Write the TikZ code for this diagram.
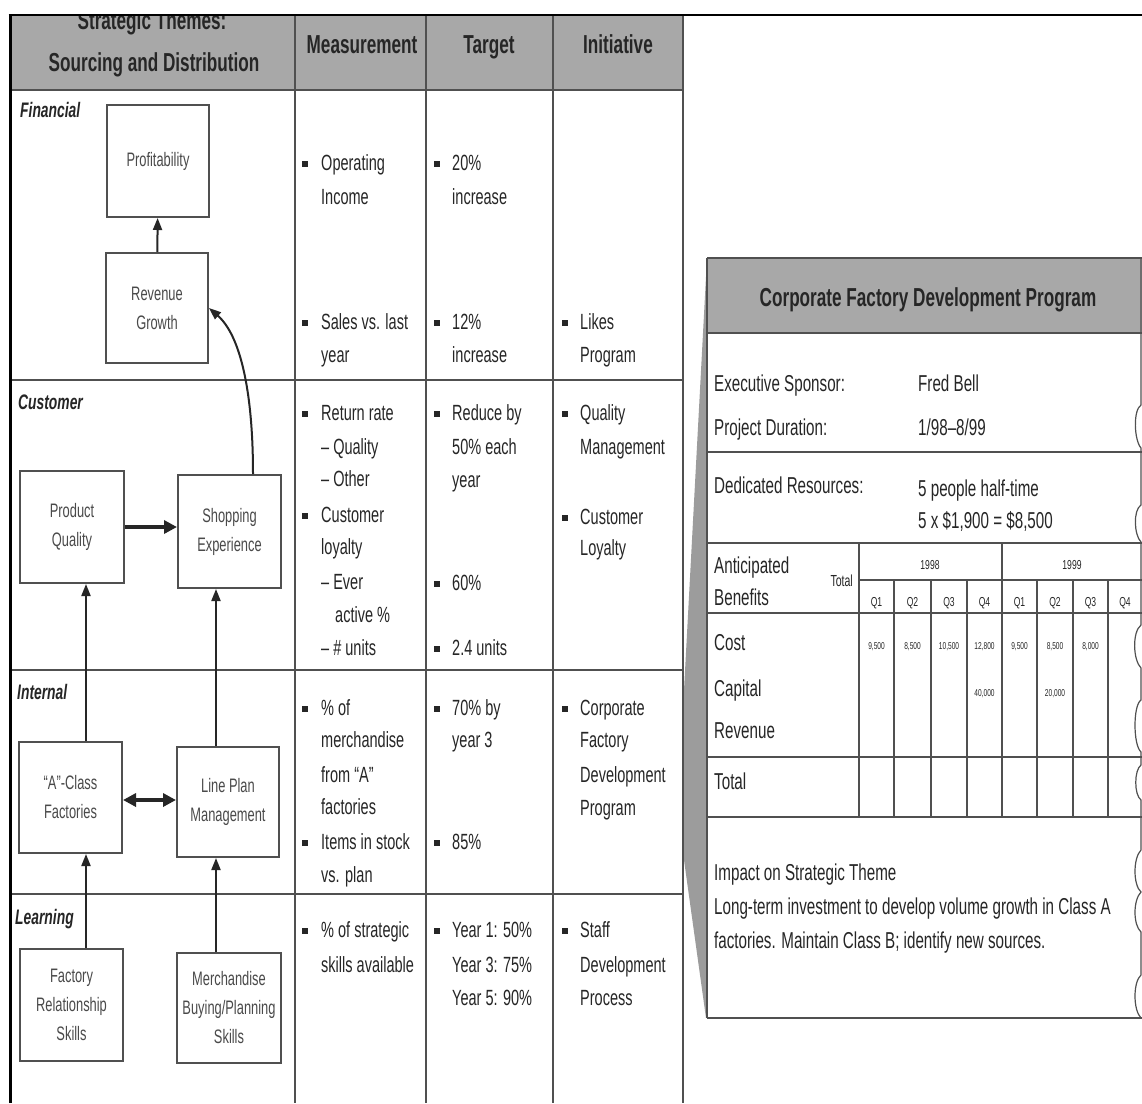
\documentclass[tikz,border=0pt]{standalone}
\usepackage{fontspec}
\setmainfont{Liberation Sans}[FakeStretch=0.66]
\usetikzlibrary{arrows.meta}

\definecolor{ink}{HTML}{262626}
\definecolor{softink}{HTML}{4A4A4A}
\definecolor{rulegray}{HTML}{505050}
\definecolor{bandgray}{HTML}{A8A8A8}
\definecolor{wedgegray}{HTML}{9C9C9C}

\tikzset{
  rule/.style={draw=rulegray, line width=1.6pt},
  heavyrule/.style={draw=rulegray, line width=2.6pt},
  frame/.style={draw=black, line width=3pt},
  box/.style={draw=rulegray, line width=2pt, fill=white, align=center, text=softink,
    font=\fontsize{19.5}{29}\selectfont, inner sep=2pt},
  txt/.style={anchor=base west, inner sep=0pt, text=ink, font=\fontsize{22}{26}\selectfont},
  rtxt/.style={anchor=base west, inner sep=0pt, text=ink, font=\fontsize{23}{27}\selectfont},
  head/.style={anchor=base, inner sep=0pt, text=ink, font=\bfseries\fontsize{26}{30}\selectfont},
  rowlab/.style={anchor=base west, inner sep=0pt, text=ink, font=\bfseries\itshape\fontsize{21}{25}\selectfont},
  bul/.style={fill=ink, inner sep=0pt, minimum size=6pt},
  link/.style={draw=ink, line width=2pt, -{Triangle[length=12pt,width=9pt]}},
  biglink/.style={draw=ink, line width=4.5pt, -{Triangle[length=13pt,width=13pt]}},
  bothlink/.style={draw=ink, line width=4.5pt, {Triangle[length=13pt,width=13pt]}-{Triangle[length=13pt,width=13pt]}},
  tiny/.style={anchor=base, inner sep=0pt, text=ink, font=\fontsize{10}{12}\selectfont},
  qlab/.style={anchor=base, inner sep=0pt, text=ink, font=\fontsize{13}{15}\selectfont},
  tear/.style={draw=rulegray, line width=1.2pt},
}

\begin{document}
\begin{tikzpicture}[x=1pt,y=-1pt]
\useasboundingbox (0,0) rectangle (1142,1103);
\fill[white] (0,0) rectangle (1142,1103);

% ---------------- scorecard table ----------------
\fill[bandgray] (10,15) rectangle (683,90);

\node[head] (hd1) at (152,29) {Strategic Themes:};
\node[head] (hd2) at (154,71) {Sourcing and Distribution};
\node[head] (hd3) at (362,53) {Measurement};
\node[head] (hd4) at (489,53) {Target};
\node[head] (hd5) at (618,53) {Initiative};

% cover the clipped top of the header text
\fill[white] (0,0) rectangle (1142,14);

\draw[heavyrule] (10,90) -- (683,90);
\draw[rule] (10,380) -- (683,380);
\draw[rule] (10,670) -- (683,670);
\draw[rule] (10,894) -- (683,894);
\draw[rule] (295,15) -- (295,1103);
\draw[rule] (426,15) -- (426,1103);
\draw[rule] (553,15) -- (553,1103);
\draw[rule] (683,15) -- (683,1103);

\draw[frame] (10,1103) -- (10,15);
\draw[draw=black, line width=2.5pt] (8.5,15) -- (1142,15);

% perspective rows
\node[rowlab] (lfin) at (20,117) {Financial};
\node[rowlab] (lcus) at (18,409) {Customer};
\node[rowlab] (lint) at (17,699) {Internal};
\node[rowlab] (llea) at (15,924) {Learning};

% strategy map boxes
\node[box, minimum width=102pt, minimum height=112pt] (prof) at (158,161) {Profitability};
\node[box, minimum width=102pt, minimum height=110pt] (rev) at (157,308) {Revenue\\Growth};
\node[box, minimum width=104pt, minimum height=112pt] (pq) at (72,527) {Product\\Quality};
\node[box, minimum width=103pt, minimum height=113pt] (shop) at (229.5,531.5) {Shopping\\Experience};
\node[box, minimum width=103pt, minimum height=111pt] (acl) at (70.5,797.5) {``A''-Class\\Factories};
\node[box, minimum width=102pt, minimum height=110pt] (lpm) at (228,802) {Line Plan\\Management};
\node[box, minimum width=103pt, minimum height=112pt] (frs) at (71.5,1005) {Factory\\Relationship\\Skills};
\node[box, minimum width=104pt, minimum height=110pt] (mbp) at (229,1008) {Merchandise\\Buying/Planning\\Skills};

\coordinate (xl) at (86,0);
\coordinate (xr) at (216,0);
\coordinate (xc) at (253,0);
\coordinate (yq) at (0,527);
\coordinate (yf) at (0,800);

\draw[link] (rev) -- (prof);
\draw[link] (shop.north -| xc) .. controls (253,390) and (240,335) .. (rev.east);
\draw[biglink] (pq.east |- yq) -- (shop.west |- yq);
\draw[link] (acl.north -| xl) -- (pq.south -| xl);
\draw[link] (lpm.north -| xr) -- (shop.south -| xr);
\draw[bothlink] (acl.east |- yf) -- (lpm.west |- yf);
\draw[link] (frs.north -| xl) -- (acl.south -| xl);
\draw[link] (mbp.north -| xr) -- (lpm.south -| xr);

% ---- Financial ----
\node[bul] (bm1) at (305,164) {};
\node[txt] (mt1) at (321,170) {Operating};
\node[txt] (mt2) at (321,204) {Income};
\node[bul] (bm2) at (305,323) {};
\node[txt] (mt3) at (321,329) {Sales vs. last};
\node[txt] (mt4) at (321,362) {year};
\node[bul] (bt1) at (437,164) {};
\node[txt] (tt1) at (452,170) {20\%};
\node[txt] (tt2) at (452,204) {increase};
\node[bul] (bt2) at (437,323) {};
\node[txt] (tt3) at (452,329) {12\%};
\node[txt] (tt4) at (452,362) {increase};
\node[bul] (bi1) at (565,323) {};
\node[txt] (it1) at (580,329) {Likes};
\node[txt] (it2) at (580,362) {Program};

% ---- Customer ----
\node[bul] (bm3) at (305,414) {};
\node[txt] (mt5) at (321,420) {Return rate};
\node[txt] (mt6) at (321,454) {– Quality};
\node[txt] (mt7) at (321,486) {– Other};
\node[bul] (bm4) at (305,516) {};
\node[txt] (mt8) at (321,522) {Customer};
\node[txt] (mt9) at (321,554) {loyalty};
\node[txt] (mt10) at (321,589) {– Ever};
\node[txt] (mt11) at (335,622) {active \%};
\node[txt] (mt12) at (321,655) {– \# units};
\node[bul] (bt3) at (437,414) {};
\node[txt] (tt5) at (452,420) {Reduce by};
\node[txt] (tt6) at (452,454) {50\% each};
\node[txt] (tt7) at (452,487) {year};
\node[bul] (bt4) at (437,584) {};
\node[txt] (tt8) at (452,590) {60\%};
\node[bul] (bt5) at (437,649) {};
\node[txt] (tt9) at (452,655) {2.4 units};
\node[bul] (bi2) at (565,414) {};
\node[txt] (it3) at (580,420) {Quality};
\node[txt] (it4) at (580,454) {Management};
\node[bul] (bi3) at (565,518) {};
\node[txt] (it5) at (580,524) {Customer};
\node[txt] (it6) at (580,555) {Loyalty};

% ---- Internal ----
\node[bul] (bm5) at (305,709) {};
\node[txt] (mt13) at (321,715) {\% of};
\node[txt] (mt14) at (321,747) {merchandise};
\node[txt] (mt15) at (321,782) {from “A”};
\node[txt] (mt16) at (321,814) {factories};
\node[bul] (bm6) at (305,843) {};
\node[txt] (mt17) at (321,849) {Items in stock};
\node[txt] (mt18) at (321,882) {vs. plan};
\node[bul] (bt6) at (437,709) {};
\node[txt] (tt10) at (452,715) {70\% by};
\node[txt] (tt11) at (452,747) {year 3};
\node[bul] (bt7) at (437,843) {};
\node[txt] (tt12) at (452,849) {85\%};
\node[bul] (bi4) at (565,709) {};
\node[txt] (it7) at (580,715) {Corporate};
\node[txt] (it8) at (580,747) {Factory};
\node[txt] (it9) at (580,782) {Development};
\node[txt] (it10) at (580,815) {Program};

% ---- Learning ----
\node[bul] (bm7) at (305,931) {};
\node[txt] (mt19) at (321,937) {\% of strategic};
\node[txt] (mt20) at (321,972) {skills available};
\node[bul] (bt8) at (437,931) {};
\node[txt] (tt13) at (452,937) {Year 1: 50\%};
\node[txt] (tt14) at (452,972) {Year 3: 75\%};
\node[txt] (tt15) at (452,1005) {Year 5: 90\%};
\node[bul] (bi5) at (565,931) {};
\node[txt] (it11) at (580,937) {Staff};
\node[txt] (it12) at (580,972) {Development};
\node[txt] (it13) at (580,1005) {Process};

% ---------------- initiative detail card ----------------
\fill[white] (707,258) rectangle (1142,1018);
\fill[wedgegray] (707,258) -- (684,690) -- (684,860) -- (706,1018) -- cycle;
\fill[bandgray] (707,258) rectangle (1142,333);
\node[head] (ttl) at (928,306) {Corporate Factory Development Program};

\draw[rule] (707,258) -- (1142,258);
\draw[rule] (707,333) -- (1142,333);
\draw[rule] (707,452) -- (1142,452);
\draw[rule] (707,543) -- (1142,543);
\draw[rule] (859,580) -- (1142,580);
\draw[rule] (707,613) -- (1142,613);
\draw[rule] (707,757) -- (1142,757);
\draw[rule] (707,817) -- (1142,817);
\draw[rule] (707,1018) -- (1142,1018);
\draw[rule] (707,258) -- (707,1018);
\draw[rule] (859,543) -- (859,817);
\draw[rule] (1002,543) -- (1002,817);
\foreach \cx in {894,931,967,1037,1073,1108}
  \draw[rule] (\cx,580) -- (\cx,817);

% torn right edge
\draw[tear] (1141,258) -- (1141,405)
  .. controls (1133,410) and (1134,440) .. (1141,448) -- (1141,505)
  .. controls (1133,510) and (1134,535) .. (1141,542) -- (1141,625)
  .. controls (1132,632) and (1133,660) .. (1141,668) -- (1141,700)
  .. controls (1133,705) and (1133,745) .. (1141,752) -- (1141,765)
  .. controls (1134,770) and (1134,795) .. (1141,800) -- (1141,850)
  .. controls (1133,858) and (1133,885) .. (1141,892)
  .. controls (1133,900) and (1133,925) .. (1141,932) -- (1141,975)
  .. controls (1133,982) and (1133,1010) .. (1141,1018);

\node[rtxt] (ex1) at (714,391) {Executive Sponsor:};
\node[rtxt] (ex2) at (918,391) {Fred Bell};
\node[rtxt] (pd1) at (714,435) {Project Duration:};
\node[rtxt] (pd2) at (918,435) {1/98–8/99};
\node[rtxt] (dr1) at (714,493) {Dedicated Resources:};
\node[rtxt] (dr2) at (918,496) {5 people half-time};
\node[rtxt] (dr3) at (918,528) {5 x \$1,900 = \$8,500};

\node[rtxt] (ab1) at (714,573) {Anticipated};
\node[rtxt] (ab2) at (714,605) {Benefits};
\node[anchor=base east, inner sep=0pt, text=ink, font=\fontsize{16}{18}\selectfont] (tot) at (853,586) {Total};
\node[qlab] (y98) at (930,569) {1998};
\node[qlab] (y99) at (1072,569) {1999};
\foreach \cx/\q [count=\i] in {876.5/Q1,912.5/Q2,949/Q3,984.5/Q4,1019.5/Q1,1055/Q2,1090.5/Q3,1125/Q4}
  \node[qlab] (q\i) at (\cx,606) {\q};

\node[rtxt] (rc) at (714,650) {Cost};
\node[rtxt] (rk) at (714,696) {Capital};
\node[rtxt] (rr) at (714,738) {Revenue};
\node[rtxt] (rt) at (714,789) {Total};

\foreach \cx/\v [count=\i] in {876.5/{9,500},912.5/{8,500},949/{10,500},984.5/{12,800},1019.5/{9,500},1055/{8,500},1090.5/{8,000}}
  \node[tiny] (cv\i) at (\cx,649) {\v};
\node[tiny] (kv1) at (984.5,696) {40,000};
\node[tiny] (kv2) at (1055,696) {20,000};

\node[rtxt] (imp1) at (714,880) {Impact on Strategic Theme};
\node[rtxt] (imp2) at (714,914) {Long-term investment to develop volume growth in Class A};
\node[rtxt] (imp3) at (714,948) {factories. Maintain Class B; identify new sources.};
\end{tikzpicture}
\end{document}
